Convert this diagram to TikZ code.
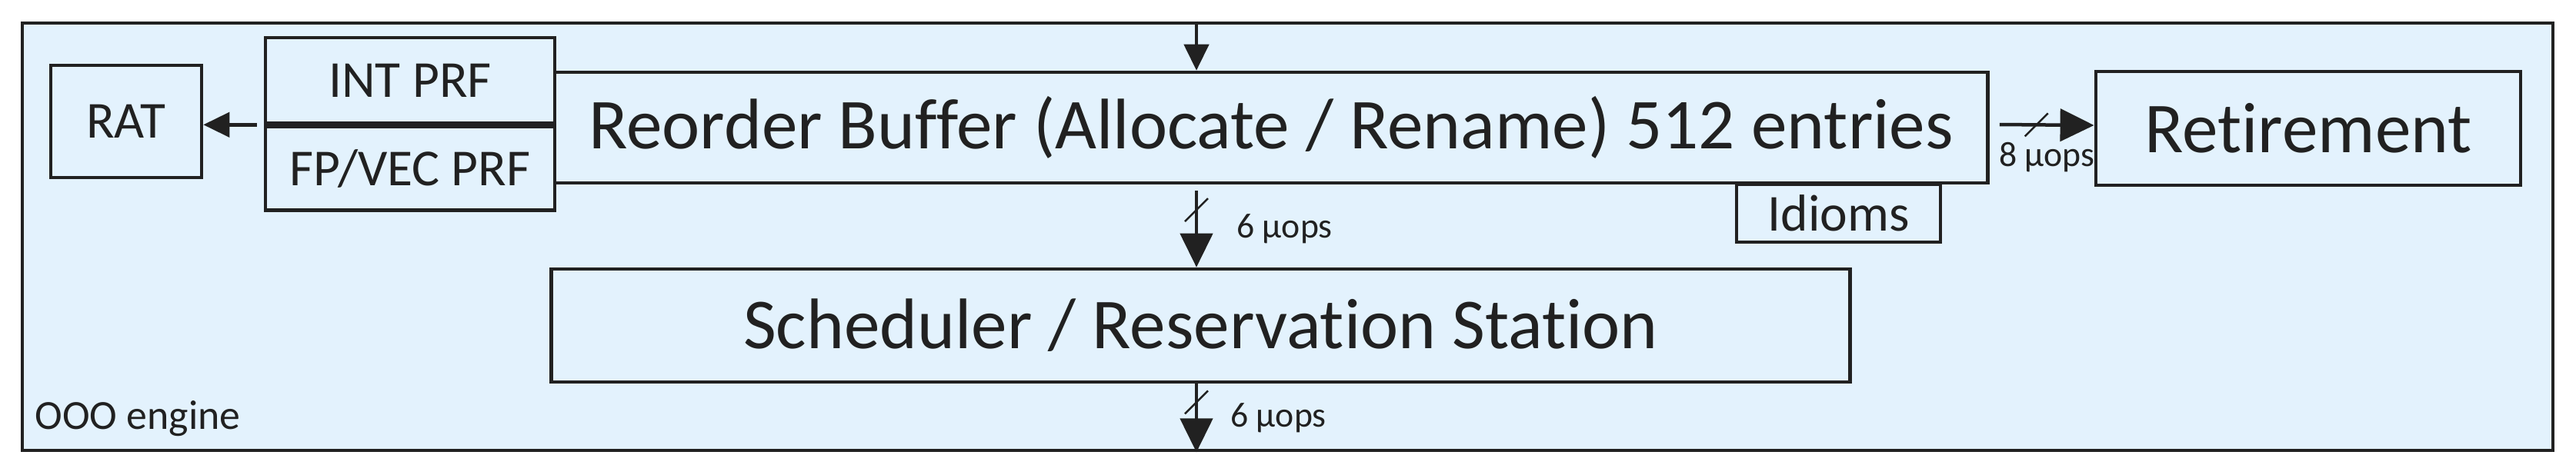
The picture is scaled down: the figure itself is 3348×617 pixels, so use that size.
\documentclass[tikz,border=0pt]{standalone}
\usepackage{fontspec}
\setmainfont{Carlito}[Ligatures=NoCommon]
\usepackage{tikz}
\usetikzlibrary{positioning}
\usetikzlibrary{arrows.meta}
\definecolor{ooofill}{HTML}{E3F2FD}
\definecolor{ink}{HTML}{212121}
\tikzset{unit/.style={draw=ink,line width=0.045cm,fill=ooofill,text=ink,inner sep=0pt},
  big label/.style={font=\fontsize{26.5}{31}\selectfont},
  mid label/.style={font=\fontsize{19.2}{22}\selectfont},
  bus label/.style={font=\fontsize{13}{15}\selectfont,text=ink,inner sep=0pt},
  flow/.style={draw=ink,line width=0.045cm,-{Triangle[length=0.44cm,width=0.42cm]}},
  thin flow/.style={draw=ink,line width=0.045cm,-{Triangle[length=0.34cm,width=0.32cm]}},
  bus tick/.style={draw=ink,line width=0.025cm},}

\begin{document}
\begin{tikzpicture}[x=0.01cm,y=-0.01cm]
    \useasboundingbox (0,0) rectangle (3348,617);
    \node[unit,minimum width=32.87cm,minimum height=5.56cm] (engine) at (1673.5,308) {};
    \node[text=ink,font=\fontsize{15.3}{18}\selectfont,anchor=base west,inner sep=0pt] (enginelbl) at (45,558) {OOO engine};

    \node[unit,big label,minimum width=18.62cm,minimum height=1.44cm] (rob) at (1652,166) {Reorder Buffer (Allocate / Rename) 512 entries};
    \node[unit,mid label,minimum width=3.76cm,minimum height=1.11cm] (intprf) at (533,104.5) {INT PRF};
    \node[unit,mid label,minimum width=3.76cm,minimum height=1.09cm] (fpprf) [below = 0cm of intprf] {FP/VEC PRF};
    \node[unit,mid label,minimum width=1.96cm,minimum height=1.46cm] (rat) at (164,158) {RAT};
    \node[unit,mid label,minimum width=2.65cm,minimum height=0.75cm] (idioms) at (2389.5,277.5) {Idioms};
    \node[unit,big label,minimum width=5.52cm,minimum height=1.48cm] (ret) at (3000,167) {Retirement};
    \node[unit,big label,minimum width=16.87cm,minimum height=1.47cm] (sched) at (1560.5,423.5) {Scheduler / Reservation Station};

    \coordinate (bus) at (1555,0);

    \draw[thin flow] (engine.north -| bus) -- (rob.north -| bus);
    \draw[thin flow] ([xshift=-0.09cm]fpprf.north west) -- (fpprf.north west -| rat.east);
    \draw[flow] ([yshift=-0.08cm]rob.south -| bus) -- coordinate[pos=0.25] (t1)
        node[bus label,right=0.5cm] (lbl1) {6 µops} (sched.north -| bus);
    \draw[flow] (sched.south -| bus) -- coordinate[pos=0.27] (t2)
        node[bus label,right=0.42cm] (lbl2) {6 µops} (engine.south -| bus);
    \draw[flow] ([xshift=0.13cm,yshift=0.04cm]rob.east) -- coordinate[pos=0.39] (t3)
        node[bus label,below=0.2cm] (lbl3) {8 µops} ([yshift=0.04cm]ret.west);

    \draw[bus tick] ([shift={(-15,15)}]t1) -- ([shift={(15,-15)}]t1);
    \draw[bus tick] ([shift={(-15,15)}]t2) -- ([shift={(15,-15)}]t2);
    \draw[bus tick] ([shift={(-15,15)}]t3) -- ([shift={(15,-15)}]t3);
\end{tikzpicture}
\end{document}
